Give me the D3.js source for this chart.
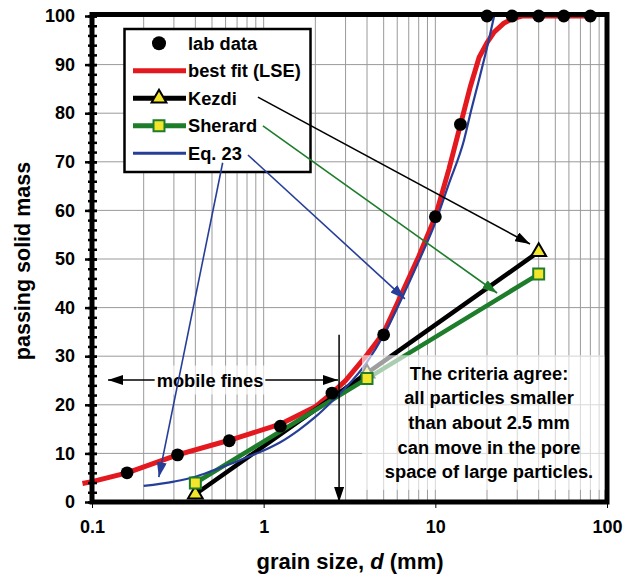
<!DOCTYPE html>
<html>
<head>
<meta charset="utf-8">
<script src="https://cdn.jsdelivr.net/npm/d3@7"></script>
<style>
  body { margin: 0; background: #fff; }
  svg { display: block; font-family: "Liberation Sans", Arial, sans-serif; font-weight: bold; }
</style>
</head>
<body>
<svg id="chart" width="625" height="577"></svg>
<script>
// lab data (sieve sizes in mm, percent passing)
const labD = [0.16, 0.315, 0.63, 1.25, 2.5, 5, 10, 14, 20, 28, 40, 56, 80];
const labP = [6.0, 9.7, 12.6, 15.6, 22.4, 34.4, 58.7, 77.7, 100, 100, 100, 100, 100];

// best fit (LSE)
const fitD = [0.088, 0.1, 0.16, 0.315, 0.63, 1.25, 2, 2.5, 3, 4, 5, 6.3, 8, 10, 12, 14, 16, 18, 20, 22, 25, 28, 32, 80];
const fitP = [3.8, 4.2, 6.0, 9.7, 12.7, 16.0, 19.6, 22.4, 25.0, 30.3, 34.8, 42.5, 50.5, 58.7, 68.5, 77.6, 85.5, 91.5, 94.5, 96.7, 98.5, 99.4, 100, 100];

// Eq. 23
const eqD = [0.2, 0.3, 0.4, 0.5, 0.64, 0.8, 1, 1.25, 1.6, 2, 2.5, 3, 4, 5, 6.3, 8, 10, 12, 14.7, 16.2, 18, 20, 22];
const eqP = [3.3, 4.2, 5.2, 6.4, 7.8, 9.2, 10.6, 12.3, 14.8, 17.5, 20.7, 23.5, 28.8, 34.3, 41.5, 49.5, 57.5, 65.5, 74.5, 80.7, 87, 93.5, 100];

// Kezdi and Sherard criteria
const kezdiD = [0.4, 4, 40];
const kezdiP = [1.6, 26.5, 51.5];
const sherardD = [0.4, 4, 40];
const sherardP = [3.9, 25.4, 46.9];

const xTicks = [0.1, 1, 10, 100];
const yTicks = d3.range(0, 101, 10);
const yMinor = d3.range(0, 101, 2);

const legendLabels = ["lab data", "best fit (LSE)", "Kezdi", "Sherard", "Eq. 23"];

// arrows from the legend labels, in data units [d, percent]
const arrows = [
  { from: [0.926, 83.3], to: [35.6, 53.1], color: "#000" },
  { from: [0.99, 77.4], to: [22.9, 43.0], color: "#1d7d2a" },
  { from: [0.81, 71.4], to: [6.65, 41.8], color: "#273e99" },
  { from: [0.577, 69.8], to: [0.245, 5.1], color: "#273e99" }
];
const finesY = 25.1, finesLeft = 0.124, finesRight = 2.71;
const cutD = 2.75, cutTop = 34.4;
const noteBox = { d0: 3.74, d1: 100, p0: 2.5, p1: 30.2 };
const noteLines = ["The criteria agree:", "all particles smaller", "than about 2.5 mm", "can move in the pore", "space of large particles."];

const RED = "#e3191f", GREEN = "#1d7d2a", BLUE = "#273e99", YELLOW = "#f2e52a";

const svg = d3.select("#chart");
const x = d3.scaleLog().domain([0.1, 100]).range([92, 607]);
const y = d3.scaleLinear().domain([0, 100]).range([502, 16]);

const zip = (ds, ps) => ds.map((d, i) => [d, ps[i]]);
const line = d3.line().x(d => x(d[0])).y(d => y(d[1]));

// arrowhead markers
const defs = svg.append("defs");
[["black", "#000"], ["green", GREEN], ["blue", BLUE]].forEach(([id, c]) => {
  defs.append("marker")
    .attr("id", "arr-" + id)
    .attr("viewBox", "0 0 15 10")
    .attr("refX", 15).attr("refY", 5)
    .attr("markerWidth", 15).attr("markerHeight", 10)
    .attr("markerUnits", "userSpaceOnUse")
    .attr("orient", "auto")
    .append("path").attr("d", "M0,0L15,5L0,10Z").attr("fill", c);
});
const markerFor = c => c === GREEN ? "url(#arr-green)" : c === BLUE ? "url(#arr-blue)" : "url(#arr-black)";

/* grid */
const minorX = [];
[0.1, 1, 10].forEach(dec => { for (let k = 2; k <= 10; k++) minorX.push(dec * k); });
svg.append("g").selectAll("line").data(minorX.filter(v => v < 99)).join("line")
  .attr("x1", d => x(d)).attr("x2", d => x(d))
  .attr("y1", y(0)).attr("y2", y(100))
  .attr("stroke", "#9a9a9a").attr("stroke-width", 1);
svg.append("g").selectAll("line").data(yTicks.slice(1, -1)).join("line")
  .attr("x1", x(0.1)).attr("x2", x(100))
  .attr("y1", d => y(d)).attr("y2", d => y(d))
  .attr("stroke", "#9a9a9a").attr("stroke-width", 1);

/* curves */
svg.append("path").datum(zip(fitD, fitP)).attr("d", line)
  .attr("fill", "none").attr("stroke", RED).attr("stroke-width", 5);
svg.append("path").datum(zip(kezdiD, kezdiP)).attr("d", line)
  .attr("fill", "none").attr("stroke", "#000").attr("stroke-width", 4.5);
svg.append("path").datum(zip(sherardD, sherardP)).attr("d", line)
  .attr("fill", "none").attr("stroke", GREEN).attr("stroke-width", 4.5);
svg.append("path").datum(zip(eqD, eqP)).attr("d", d3.line().curve(d3.curveMonotoneX).x(d => x(d[0])).y(d => y(d[1])))
  .attr("fill", "none").attr("stroke", BLUE).attr("stroke-width", 2.2);

const tri = d3.symbol().type(d3.symbolTriangle).size(95);
svg.append("g").selectAll("path").data(zip(kezdiD, kezdiP)).join("path")
  .attr("d", tri).attr("transform", d => `translate(${x(d[0])},${y(d[1])})`)
  .attr("fill", YELLOW).attr("stroke", "#000").attr("stroke-width", 2);

/* frame and axes */
svg.append("rect").attr("x", x(0.1)).attr("y", y(100) - 1.5)
  .attr("width", x(100) - x(0.1)).attr("height", y(0) - y(100) + 1.5)
  .attr("fill", "none").attr("stroke", "#000").attr("stroke-width", 5);

const yMinorAxis = svg.append("g").attr("transform", `translate(${x(0.1)},0)`)
  .call(d3.axisLeft(y).tickValues(yMinor).tickFormat("").tickSize(4));
yMinorAxis.select(".domain").remove();
yMinorAxis.selectAll("line").attr("x1", 5).attr("x2", -4).attr("stroke-width", 2.5);

const yAxis = svg.append("g").attr("transform", `translate(${x(0.1)},0)`)
  .call(d3.axisLeft(y).tickValues(yTicks).tickSize(7).tickPadding(10));
yAxis.select(".domain").remove();
yAxis.selectAll("line").attr("x1", 5).attr("stroke-width", 2.5);
yAxis.selectAll("text").attr("font-size", 18).attr("font-weight", "bold")
  .attr("font-family", "Liberation Sans, Arial, sans-serif").attr("fill", "#000");

const xAxis = svg.append("g").attr("transform", `translate(0,${y(0)})`)
  .call(d3.axisBottom(x).tickValues(xTicks).tickFormat(d => d).tickSize(6).tickPadding(12));
xAxis.select(".domain").remove();
xAxis.selectAll("line").attr("stroke-width", 1);
xAxis.selectAll("text").attr("font-size", 18).attr("font-weight", "bold")
  .attr("font-family", "Liberation Sans, Arial, sans-serif").attr("fill", "#000");

svg.append("text").attr("x", 350).attr("y", 569).attr("text-anchor", "middle")
  .attr("font-size", 22)
  .html('grain size, <tspan font-style="italic">d</tspan>  (mm)');
svg.append("text").attr("transform", "translate(30,261) rotate(-90)")
  .attr("text-anchor", "middle").attr("font-size", 21.5).text("passing solid mass");

/* note box */
svg.append("rect").attr("x", x(noteBox.d0)).attr("y", y(noteBox.p1))
  .attr("width", x(noteBox.d1) - x(noteBox.d0) - 2.5).attr("height", y(noteBox.p0) - y(noteBox.p1))
  .attr("fill", "#fff").attr("fill-opacity", 0.62);
svg.append("g").selectAll("text").data(noteLines).join("text")
  .attr("x", 489).attr("y", (d, i) => 379.5 + i * 24.7)
  .attr("text-anchor", "middle").attr("font-size", 18.3).text(d => d);

const sq = d3.symbol().type(d3.symbolSquare).size(120);
svg.append("g").selectAll("path").data(zip(sherardD, sherardP)).join("path")
  .attr("d", sq).attr("transform", d => `translate(${x(d[0])},${y(d[1])})`)
  .attr("fill", YELLOW).attr("stroke", GREEN).attr("stroke-width", 2);

svg.append("g").selectAll("circle").data(zip(labD, labP)).join("circle")
  .attr("cx", d => x(d[0])).attr("cy", d => y(d[1])).attr("r", 6.4).attr("fill", "#000");

/* mobile fines annotation */
const finesText = svg.append("text").attr("x", 210).attr("y", y(finesY) + 6.5)
  .attr("text-anchor", "middle").attr("font-size", 18.3).text("mobile fines");
const bb = finesText.node().getBBox();
svg.insert("rect", () => finesText.node())
  .attr("x", bb.x - 2).attr("y", bb.y - 4).attr("width", bb.width + 4).attr("height", bb.height + 8)
  .attr("fill", "#fff").attr("fill-opacity", 0.65);
svg.append("line").attr("x1", bb.x - 2).attr("x2", x(finesLeft))
  .attr("y1", y(finesY)).attr("y2", y(finesY))
  .attr("stroke", "#000").attr("stroke-width", 1.5).attr("marker-end", "url(#arr-black)");
svg.append("line").attr("x1", bb.x + bb.width + 2).attr("x2", x(finesRight))
  .attr("y1", y(finesY)).attr("y2", y(finesY))
  .attr("stroke", "#000").attr("stroke-width", 1.5).attr("marker-end", "url(#arr-black)");
svg.append("line").attr("x1", x(cutD)).attr("x2", x(cutD))
  .attr("y1", y(cutTop)).attr("y2", y(0))
  .attr("stroke", "#000").attr("stroke-width", 1.5).attr("marker-end", "url(#arr-black)");

/* legend */
const lg = svg.append("g");
lg.append("rect").attr("x", 124.5).attr("y", 29).attr("width", 186).attr("height", 143)
  .attr("fill", "#fff").attr("stroke", "#000").attr("stroke-width", 2.5);
const rowY = i => 43.3 + i * 27.5;
lg.selectAll("text").data(legendLabels).join("text")
  .attr("x", 188).attr("y", (d, i) => rowY(i) + 6.5).attr("font-size", 18.3).text(d => d);
lg.append("circle").attr("cx", 159).attr("cy", rowY(0)).attr("r", 7).attr("fill", "#000");
const legLine = (i, c, w) => lg.append("line").attr("x1", 133).attr("x2", 186)
  .attr("y1", rowY(i)).attr("y2", rowY(i)).attr("stroke", c).attr("stroke-width", w);
legLine(1, RED, 5);
legLine(2, "#000", 5);
legLine(3, GREEN, 5);
legLine(4, BLUE, 3);
lg.append("path").attr("d", tri).attr("transform", `translate(159,${rowY(2)})`)
  .attr("fill", YELLOW).attr("stroke", "#000").attr("stroke-width", 2);
lg.append("path").attr("d", sq).attr("transform", `translate(159,${rowY(3)})`)
  .attr("fill", YELLOW).attr("stroke", GREEN).attr("stroke-width", 2);

/* arrows from the legend */
arrows.forEach(a => {
  svg.append("line")
    .attr("x1", x(a.from[0])).attr("y1", y(a.from[1]))
    .attr("x2", x(a.to[0])).attr("y2", y(a.to[1]))
    .attr("stroke", a.color).attr("stroke-width", 1.6)
    .attr("marker-end", markerFor(a.color));
});
</script>
</body>
</html>
